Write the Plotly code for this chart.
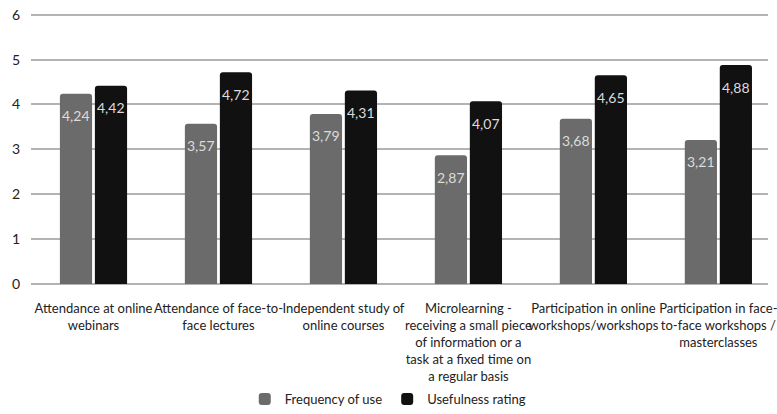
import plotly.graph_objects as go

categories = [
    "Attendance at online<br>webinars",
    "Attendance of face-to-<br>face lectures",
    "Independent study of<br>online courses",
    "Microlearning -<br>receiving a small piece<br>of information or a<br>task at a fixed time on<br>a regular basis",
    "Participation in online<br>workshops/workshops",
    "Participation in face-<br>to-face workshops /<br>masterclasses",
]
frequency_of_use = [4.24, 3.57, 3.79, 2.87, 3.68, 3.21]
usefulness_rating = [4.42, 4.72, 4.31, 4.07, 4.65, 4.88]
series_names = ["Frequency of use", "Usefulness rating"]
y_ticks = [0, 1, 2, 3, 4, 5, 6]

FONT = "Lato, Liberation Sans, Arial, sans-serif"
GRAY = "#6b6b6b"
BLACK = "#111111"

xs = list(range(len(categories)))

fig = go.Figure()
fig.add_trace(go.Bar(x=xs, y=frequency_of_use, name=series_names[0],
                     marker=dict(color=GRAY, line=dict(width=0))))
fig.add_trace(go.Bar(x=xs, y=usefulness_rating, name=series_names[1],
                     marker=dict(color=BLACK, line=dict(width=0))))

# data labels
bargap = 0.44
groupgap = 0.08
half = (1 - bargap) / 2
for vals, side in ((frequency_of_use, -1), (usefulness_rating, 1)):
    for i, v in enumerate(vals):
        fig.add_annotation(
            x=i + side * half / 2, y=v, text=f"{v:.2f}".replace(".", ","),
            showarrow=False, yshift=-22, yanchor="middle",
            font=dict(family=FONT, size=14, color="#dcdcdc"),
        )

fig.update_layout(
    width=777, height=414,
    margin=dict(l=31, r=0, t=8, b=130),
    paper_bgcolor="white", plot_bgcolor="white",
    barmode="group", bargap=bargap, bargroupgap=groupgap,
    barcornerradius=3,
    font=dict(family=FONT, size=13, color="#222222"),
    showlegend=True,
    legend=dict(orientation="h", x=0.315, xref="container", xanchor="left",
                y=-0.015, yref="container", yanchor="bottom",
                font=dict(family=FONT, size=13, color="#222222"),
                itemwidth=30, tracegroupgap=0),
)
fig.update_xaxes(
    tickmode="array", tickvals=xs, ticktext=categories,
    range=[-0.5, 5.397], showgrid=False, zeroline=False, showline=False,
    ticks="", tickangle=0, ticklabelstandoff=15, ticklabeloverflow="allow",
    tickfont=dict(family=FONT, size=13, color="#222222"),
)
fig.update_yaxes(
    range=[0, 6.15], tickvals=y_ticks, showgrid=True, gridcolor="#b3b3b3", gridwidth=1.5,
    zeroline=True, zerolinecolor="#b3b3b3", zerolinewidth=1.5,
    showline=False, ticks="", ticklabelstandoff=10,
    tickfont=dict(family=FONT, size=14, color="#222222"),
)
fig.write_html("out.html")
